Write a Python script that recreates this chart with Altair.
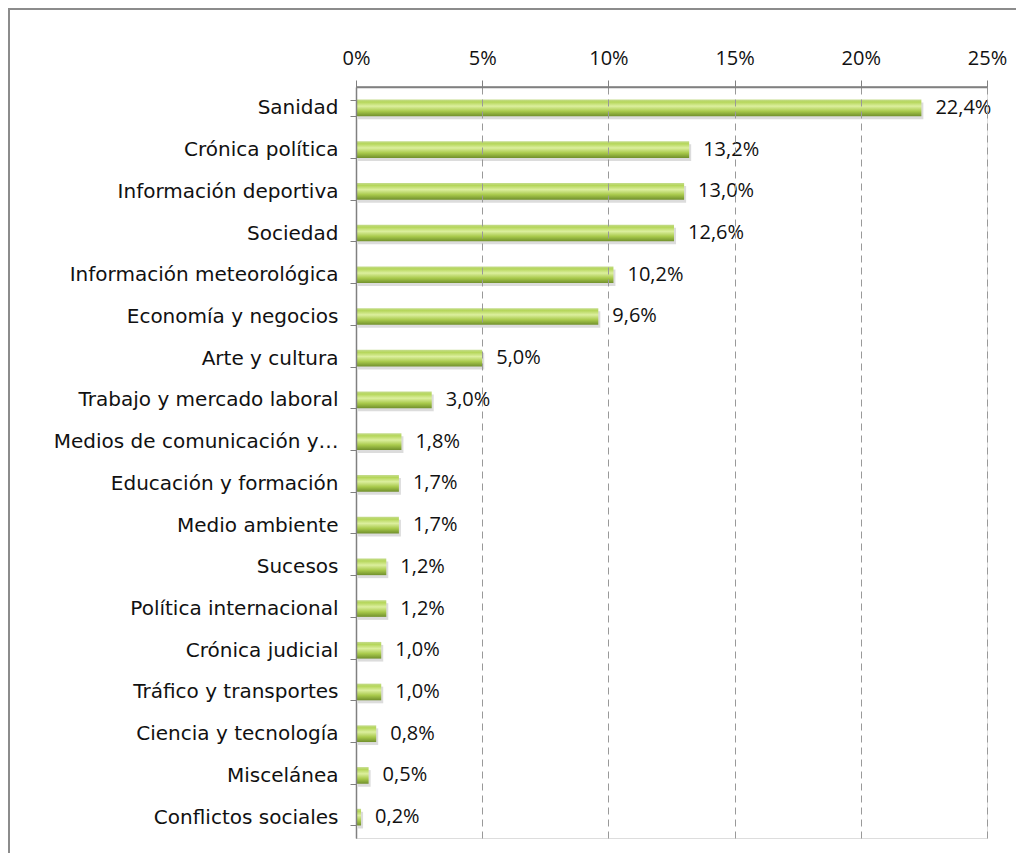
import altair as alt
import pandas as pd

categories = [
    "Sanidad", "Crónica política", "Información deportiva", "Sociedad",
    "Información meteorológica", "Economía y negocios", "Arte y cultura",
    "Trabajo y mercado laboral", "Medios de comunicación y…",
    "Educación y formación", "Medio ambiente", "Sucesos",
    "Política internacional", "Crónica judicial", "Tráfico y transportes",
    "Ciencia y tecnología", "Miscelánea", "Conflictos sociales",
]
values = [22.4, 13.2, 13.0, 12.6, 10.2, 9.6, 5.0, 3.0, 1.8, 1.7, 1.7, 1.2,
          1.2, 1.0, 1.0, 0.8, 0.5, 0.2]
x_ticks = [0, 5, 10, 15, 20, 25]

df = pd.DataFrame({"cat": categories, "v": values})

W, H = 631, 751

grad = alt.LinearGradient(
    gradient="linear", x1=0, y1=0, x2=0, y2=1,
    stops=[
        alt.GradientStop(color="#c5dc8e", offset=0),
        alt.GradientStop(color="#b5d65a", offset=0.15),
        alt.GradientStop(color="#dcef9e", offset=0.40),
        alt.GradientStop(color="#a9ca4c", offset=0.70),
        alt.GradientStop(color="#71902c", offset=1),
    ],
)

xs = alt.Scale(domain=[0, 25], nice=False)
ys = alt.Scale(paddingInner=0.6, paddingOuter=0.3)

y_enc = alt.Y(
    "cat:N", sort=categories, title=None, scale=ys,
    axis=alt.Axis(
        labelFont="DejaVu Sans", labelFontSize=20, labelColor="#111",
        labelPadding=12, tickBand="extent", tickSize=6, tickColor="#808080",
        domain=True, domainColor="#808080", domainWidth=1.5, labelLimit=400,
        grid=False, zindex=1,
    ),
)
x_enc = alt.X(
    "v:Q", title=None, scale=xs,
    axis=alt.Axis(
        orient="top", values=x_ticks, labelExpr="datum.value + '%'",
        labelFont="Open Sans", labelFontSize=20, labelColor="#111",
        labelPadding=12, labelFlush=False, tickSize=7, tickColor="#808080",
        domain=True, domainColor="#808080", domainWidth=1.5,
        grid=True, gridColor="#999", gridDash=[7, 5], gridWidth=1, zindex=1,
    ),
)

base = alt.Chart(df).encode(x=x_enc, y=y_enc)

shadow = base.mark_bar(color="#9a9a9a", opacity=0.35, xOffset=2, yOffset=3)

bars = base.mark_bar(color=grad)

labels = base.transform_calculate(
    lab="replace(format(datum.v, '.1f'), '.', ',') + '%'"
).mark_text(
    align="left", baseline="middle", dx=14, font="Open Sans", fontSize=20,
    color="#111",
).encode(text="lab:N")

frame = alt.Chart(alt.Data(values=[{}]))
x_axis_line = frame.mark_rule(color="#808080", strokeWidth=1.5).encode(
    x=alt.datum(0, scale=xs), x2=alt.datum(25), y=alt.value(0)
)
top_border = frame.mark_rule(color="#8c8c8c", strokeWidth=2).encode(
    x=alt.value(-347), x2=alt.value(700), y=alt.value(-78)
)
left_border = frame.mark_rule(color="#8c8c8c", strokeWidth=2).encode(
    x=alt.value(-347), y=alt.value(-79), y2=alt.value(800)
)

chart = alt.layer(shadow, bars, labels, x_axis_line, top_border, left_border).properties(
    width=W, height=H,
    autosize=alt.AutoSizeParams(type="none"),
    padding={"left": 348, "top": 79, "right": 29, "bottom": 15},
).configure_view(stroke=None).configure(background="white")

chart.save("out.html", embed_options={"renderer": "svg", "actions": False})
